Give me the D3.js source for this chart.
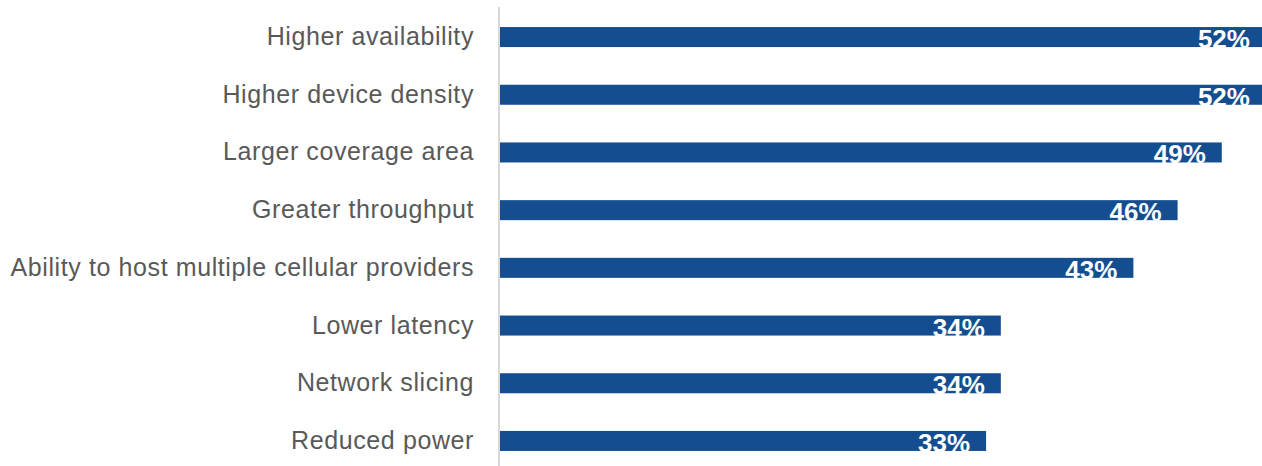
<!DOCTYPE html>
<html>
<head>
<meta charset="utf-8">
<script src="https://cdn.jsdelivr.net/npm/d3@7"></script>
<style>
  body { margin: 0; background: #fff; }
  svg { display: block; font-family: "Liberation Sans", Arial, sans-serif; }
</style>
</head>
<body>
<div class="bar-chart-container"></div>
<script>
// Data
const categories = [
  'Higher availability',
  'Higher device density',
  'Larger coverage area',
  'Greater throughput',
  'Ability to host multiple cellular providers',
  'Lower latency',
  'Network slicing',
  'Reduced power'
];
const values = [52, 52, 49, 46, 43, 34, 34, 33];

const data = categories.map((c, i) => ({cat: c, val: values[i]}));

const svg_width = 1262, svg_height = 466;
const axisX = 500;

const svg = d3.select('.bar-chart-container')
  .append('svg').attr('width', svg_width).attr('height', svg_height);

// 1% ~ 14.73px
const xScale = d3.scaleLinear([0, 52], [axisX, axisX + 52 * 14.73]);

const step = 57.7;
const yScale = d3.scaleBand().domain(categories)
  .range([8.2, 8.2 + 8 * step])
  .paddingInner(0.653)
  .paddingOuter(0.3265);

// bars
svg.append('g').attr('class', 'bars')
  .selectAll('rect').data(data).join('rect')
  .attr('x', xScale(0))
  .attr('y', d => yScale(d.cat))
  .attr('width', d => xScale(d.val) - xScale(0))
  .attr('height', yScale.bandwidth())
  .style('fill', '#144e90');

// vertical axis line
svg.append('line')
  .attr('x1', axisX - 1).attr('x2', axisX - 1)
  .attr('y1', 7).attr('y2', svg_height)
  .style('stroke', '#d9d9d9').style('stroke-width', 2);

// category labels
const yAxis = d3.axisLeft(yScale).tickSize(0).tickPadding(26);
const yAxisDraw = svg.append('g').attr('transform', `translate(${axisX},0)`).call(yAxis);
yAxisDraw.select('.domain').remove();
yAxisDraw.selectAll('text')
  .style('font-size', '25px')
  .style('letter-spacing', '0.6px')
  .style('fill', '#595959')
  .style('font-family', '"Liberation Sans", Arial, sans-serif');

// value labels
svg.append('g').selectAll('text').data(data).join('text')
  .attr('x', d => xScale(d.val) - 16)
  .attr('y', d => yScale(d.cat) + yScale.bandwidth() + 1)
  .attr('text-anchor', 'end')
  .style('font-size', '26px')
  .style('font-weight', 'bold')
  .style('fill', '#fff')
  .text(d => d.val + '%');
</script>
</body>
</html>
